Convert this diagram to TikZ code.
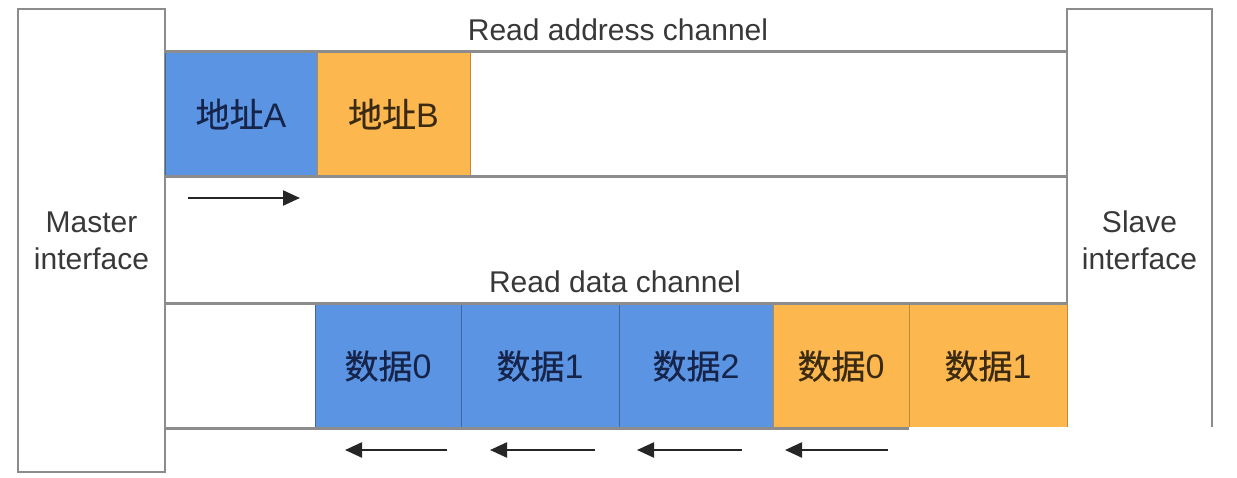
\documentclass[tikz,border=0pt]{standalone}
\usepackage{fontspec}
\setmainfont{Liberation Sans}
\newfontfamily\cjk{Noto Sans CJK SC}[FakeBold=0.6]
\usetikzlibrary{positioning, arrows.meta}
\definecolor{lineg}{HTML}{8C8C8C}
\definecolor{addrblue}{HTML}{5A94E2}
\definecolor{addrorange}{HTML}{FDB74F}
\definecolor{bluetext}{HTML}{16244A}
\definecolor{orangetext}{HTML}{3B2A12}
\tikzset{
  every picture/.style={line width=2.5pt},
  every node/.style={font=\fontsize{30}{37}\selectfont, text=black!78, outer sep=0pt},
  iface/.style={draw=lineg, rectangle, minimum width=147pt, minimum height=463pt, inner sep=0pt, align=center},
  chan/.style={draw=lineg},
  pkt/.style={rectangle, minimum height=125pt, inner sep=0pt, line width=1pt,
    font=\fontsize{34}{38}\selectfont},
  bluepkt/.style={pkt, fill=addrblue, draw=addrblue!70!black, text=bluetext},
  orangepkt/.style={pkt, fill=addrorange, draw=addrorange!75!black, text=orangetext},
  flow/.style={draw=black!85, line width=2.2pt, -{Triangle[length=17pt,width=15pt]}}
}
\newcommand{\DZ}[1]{{\cjk 地址}#1}
\newcommand{\SJ}[1]{{\cjk 数据}#1}
\begin{document}
\begin{tikzpicture}[x=1pt, y=-1pt, node distance=0pt]
    \useasboundingbox (0,0) rectangle (1237,477);
    % interfaces
    \node [iface] (master) at (91.5,240.5) {Master\\interface};
    \node [iface, minimum width=145pt] (slave) at (1139.5,240.5) {Slave\\interface};

    % read address channel
    \node [bluepkt, minimum width=152pt] (a0) at (241,114) {\DZ{A}};
    \node [orangepkt, minimum width=153pt, right=of a0] (a1) {\DZ{B}};
    \draw [chan] (a0.north west) -- (a0.north west -| slave.west);
    \draw [chan] (a0.south west) -- (a0.south west -| slave.west);
    \node (addrlbl) at (618,30) {Read address channel};
    \coordinate (af0) at (188,198);
    \coordinate (af1) at (300,198);
    \draw [flow] (af0) -- (af1);

    % read data channel
    \node [bluepkt, minimum width=146pt] (d0) at (388,366) {\SJ{0}};
    \node [bluepkt, minimum width=158pt, right=of d0] (d1) {\SJ{1}};
    \node [bluepkt, minimum width=154pt, right=of d1] (d2) {\SJ{2}};
    \node [orangepkt, minimum width=136pt, right=of d2] (e0) {\SJ{0}};
    \node [orangepkt, minimum width=158pt, right=of e0] (e1) {\SJ{1}};
    \draw [chan] (d0.north west -| master.east) -- (d0.north west -| slave.west);
    \draw [chan] (d0.south west -| master.east) -- (d0.south west -| slave.west);
    \node (datalbl) at (615,282) {Read data channel};
    \foreach \s/\t [count=\i] in {447/345, 595/490, 742/637, 888/785} {
      \coordinate (df\i s) at (\s,450);
      \coordinate (df\i t) at (\t,450);
      \draw [flow] (df\i s) -- (df\i t);
    }
    \fill [white] (909,427) rectangle (1237,477);
  \end{tikzpicture}
\end{document}
